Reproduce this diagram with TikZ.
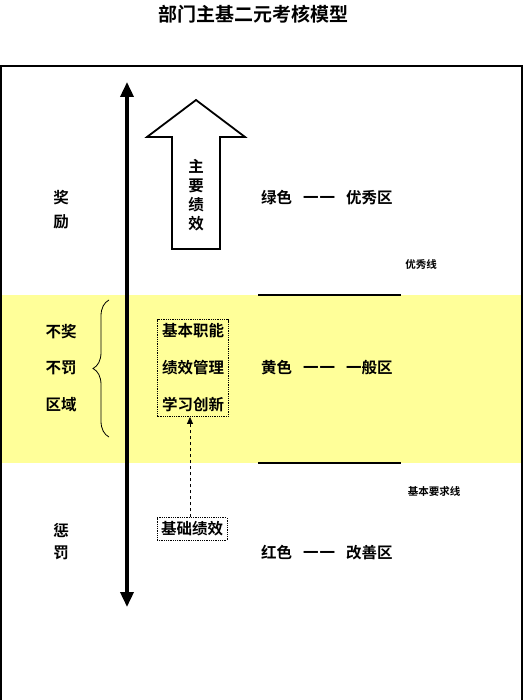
\documentclass[tikz,border=0pt]{standalone}
\usepackage{fontspec}
\setmainfont{Noto Sans CJK SC}[BoldFont={Noto Sans CJK SC Bold}]
\usetikzlibrary{arrows.meta,decorations.pathreplacing,fit}
\definecolor{band}{HTML}{FFFF99}
\tikzset{
  lbl/.style={font=\fontsize{15.5}{17}\selectfont\bfseries, inner sep=0pt},
  small/.style={font=\fontsize{10.5}{12}\selectfont\bfseries, inner sep=0pt},
  ruleline/.style={line width=2pt},
}
\newcommand{\dd}{\hspace{11pt}一\hspace{1pt}一\hspace{11pt}}
\begin{document}
\begin{tikzpicture}[x=1pt,y=-1pt]
\useasboundingbox (0,0) rectangle (524,700);
% band
\fill[band] (1,295) rectangle (522,463);
% frame
\draw[line width=1.2pt] (1,710) -- (1,66) -- (522,66) -- (522,710);
% title
\node[font=\fontsize{19}{21}\selectfont\bfseries, inner sep=0pt] (title) at (253,14) {部门主基二元考核模型};
% vertical axis
\coordinate (axtop) at (127,82);
\coordinate (axbot) at (127,607);
\draw[line width=3.5pt, {Triangle[length=15pt,width=13pt]}-{Triangle[length=15pt,width=13pt]}] (axtop) -- (axbot);
% block arrow
\draw[line width=1.8pt, fill=white] (172,249) -- (172,137) -- (147,137) -- (196,100) -- (245,137) -- (220,137) -- (220,249) -- cycle;
\node[lbl, align=center] (main) at (196,195) {主\\[2pt]要\\[2pt]绩\\[2pt]效};
% left labels
\node[lbl] (jiang) at (61,198) {奖};
\node[lbl] (li) at (61,222) {励};
\node[lbl] (bj) at (61,332) {不奖};
\node[lbl] (bf) at (61,368) {不罚};
\node[lbl] (qy) at (61,405) {区域};
\node[lbl] (cheng) at (61,530) {惩};
\node[lbl] (fa) at (61,553) {罚};
\coordinate (brb) at (109,437);
\coordinate (brt) at (109,300);
\draw[line width=0.8pt, decorate, decoration={brace, amplitude=16pt, aspect=0.5}] (brb) -- (brt);
% centre boxes
\node[lbl] (jb) at (193,331) {基本职能};
\node[lbl] (jx) at (193,368) {绩效管理};
\node[lbl] (xx) at (193,405) {学习创新};
\node[draw, densely dotted, line width=0.8pt, fit=(jb)(xx), inner xsep=4pt, inner ysep=4pt] (upper) {};
\node[lbl, draw, densely dotted, line width=0.8pt, inner xsep=4pt, inner ysep=4pt] (base) at (192,529) {基础绩效};
\draw[dashed, line width=0.8pt, -{Triangle[length=7pt,width=6pt]}] (base.north -| 190,0) -- (upper.south -| 190,0);
% right labels
\node[lbl, anchor=west] (green) at (261,198) {绿色\dd 优秀区};
\node[lbl, anchor=west] (yellow) at (261,368) {黄色\dd 一般区};
\node[lbl, anchor=west] (red) at (261,553) {红色\dd 改善区};
\node[small] (yxx) at (421,265) {优秀线};
\node[small] (jbx) at (434,491) {基本要求线};
\coordinate (l1a) at (258,295);
\coordinate (l1b) at (401,295);
\coordinate (l2a) at (258,463);
\coordinate (l2b) at (401,463);
\draw[ruleline] (l1a) -- (l1b);
\draw[ruleline] (l2a) -- (l2b);
\end{tikzpicture}
\end{document}
